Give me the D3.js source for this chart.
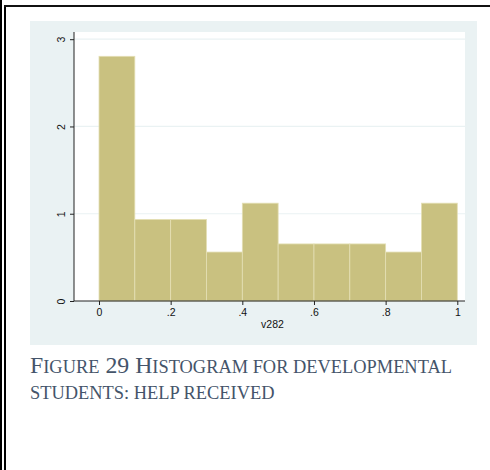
<!DOCTYPE html>
<html>
<head>
<meta charset="utf-8">
<script src="https://cdn.jsdelivr.net/npm/d3@7"></script>
<style>
  html, body { margin: 0; padding: 0; background: #fff; }
  svg { display: block; }
</style>
</head>
<body>
<svg id="chart" width="490" height="470"></svg>
<script>
// Histogram of v282: bin edges (width 0.1) and density per bin
const binStarts = [0, 0.1, 0.2, 0.3, 0.4, 0.5, 0.6, 0.7, 0.8, 0.9];
const binWidth = 0.1;
const densities = [2.804, 0.935, 0.935, 0.561, 1.121, 0.654, 0.654, 0.654, 0.561, 1.121];
const xTicks = [0, 0.2, 0.4, 0.6, 0.8, 1];
const xTickLabels = ["0", ".2", ".4", ".6", ".8", "1"];
const yTicks = [0, 1, 2, 3];
const yTickLabels = ["0", "1", "2", "3"];
const xTitle = "v282";
const captionLines = [
  [["F", "big"], ["IGURE", "small"], [" 29 H", "big"], ["ISTOGRAM FOR DEVELOPMENTAL", "small"]],
  [["STUDENTS: HELP RECEIVED", "small"]]
];

const svg = d3.select("#chart");

// page frame: double rule on the left, rule along the top
svg.append("rect").attr("x", 0).attr("y", 0).attr("width", 2).attr("height", 470).attr("fill", "#000");
svg.append("rect").attr("x", 4).attr("y", 5).attr("width", 2).attr("height", 465).attr("fill", "#000");
svg.append("rect").attr("x", 4).attr("y", 5).attr("width", 486).attr("height", 2).attr("fill", "#111");

// graph region (light blue-grey) and plot region (white)
const region = { x: 30, y: 21, w: 447, h: 324 };
const plot = { left: 74, right: 465, top: 32, bottom: 301 };

svg.append("rect")
  .attr("x", region.x).attr("y", region.y)
  .attr("width", region.w).attr("height", region.h)
  .attr("fill", "#eaf2f3");
svg.append("rect")
  .attr("x", plot.left).attr("y", plot.top)
  .attr("width", plot.right - plot.left).attr("height", plot.bottom - plot.top)
  .attr("fill", "#fff");

const x = d3.scaleLinear().domain([0, 1]).range([99, 457.3]);
const y = d3.scaleLinear().domain([0, 3]).range([plot.bottom, 39.2]);

// horizontal grid lines
svg.append("g")
  .selectAll("line")
  .data(yTicks.filter(d => d > 0))
  .join("line")
  .attr("x1", plot.left).attr("x2", plot.right)
  .attr("y1", d => y(d)).attr("y2", d => y(d))
  .attr("stroke", "#eaf2f3").attr("stroke-width", 1.2);

// bars
svg.append("g")
  .selectAll("rect")
  .data(binStarts.map((s, i) => ({ s, v: densities[i] })))
  .join("rect")
  .attr("x", d => x(d.s))
  .attr("width", d => x(d.s + binWidth) - x(d.s))
  .attr("y", d => y(d.v))
  .attr("height", d => y(0) - y(d.v))
  .attr("fill", "#c9c180")
  .attr("stroke", "#e4dfb4")
  .attr("stroke-width", 0.8);

// x axis
const xAxis = svg.append("g").attr("transform", `translate(0,${plot.bottom})`);
xAxis.append("line")
  .attr("x1", plot.left).attr("x2", plot.right)
  .attr("stroke", "#222").attr("stroke-width", 1);
xAxis.call(
  d3.axisBottom(x).tickValues(xTicks).tickSize(4)
    .tickFormat((d, i) => xTickLabels[i])
).call(g => g.select(".domain").remove());
xAxis.selectAll(".tick line").attr("stroke", "#222");
xAxis.selectAll(".tick text")
  .attr("font-family", "Liberation Sans, Arial, sans-serif")
  .attr("font-size", 10.5).attr("fill", "#111").attr("dy", "0.85em").attr("y", 6);

// y axis
const yAxis = svg.append("g").attr("transform", `translate(${plot.left},0)`);
yAxis.append("line")
  .attr("y1", plot.top).attr("y2", plot.bottom)
  .attr("stroke", "#222").attr("stroke-width", 1);
yAxis.call(
  d3.axisLeft(y).tickValues(yTicks).tickSize(4)
    .tickFormat((d, i) => yTickLabels[i])
).call(g => g.select(".domain").remove());
yAxis.selectAll(".tick line").attr("stroke", "#222");
yAxis.selectAll(".tick text")
  .attr("font-family", "Liberation Sans, Arial, sans-serif")
  .attr("font-size", 10.5).attr("fill", "#111")
  .attr("x", null).attr("dy", null)
  .attr("text-anchor", "middle")
  .attr("dominant-baseline", "central")
  .attr("transform", "translate(-13,0) rotate(-90)");

// x axis title
svg.append("text")
  .attr("x", (plot.left + plot.right) / 2 + 3)
  .attr("y", 328)
  .attr("text-anchor", "middle")
  .attr("font-family", "Liberation Sans, Arial, sans-serif")
  .attr("font-size", 10.5)
  .attr("fill", "#111")
  .text(xTitle);

// caption in small capitals
const caption = svg.append("g")
  .attr("font-family", "Liberation Serif, Times New Roman, serif")
  .attr("fill", "#44546a");
const sizes = { big: 23.8, small: 18.4 };
captionLines.forEach((parts, li) => {
  const t = caption.append("text").attr("x", 30).attr("y", 372.5 + li * 26);
  parts.forEach(([txt, kind]) => {
    t.append("tspan").attr("font-size", sizes[kind]).text(txt);
  });
});
</script>
</body>
</html>
